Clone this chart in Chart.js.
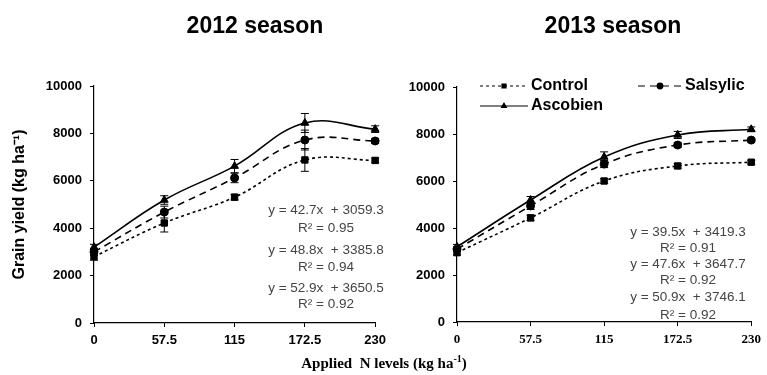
<!DOCTYPE html>
<html>
<head>
<meta charset="utf-8">
<script src="https://cdn.jsdelivr.net/npm/chart.js@4.4.1/dist/chart.umd.min.js"></script>
<style>
  html, body { margin: 0; padding: 0; background: #fff; }
  #wrap { position: relative; width: 767px; height: 375px; overflow: hidden; font-family: "Liberation Sans", Arial, sans-serif; }
  canvas { position: absolute; top: 0; }
  .title { position: absolute; top: 12px; font: bold 23px "Liberation Sans", Arial, sans-serif; transform: translateX(-50%); white-space: nowrap; }
  .eq { position: absolute; font: 13.5px "Liberation Sans", Arial, sans-serif; color: #444; transform: translate(-50%, -50%); white-space: pre; line-height: 1; }
  #xtitle { position: absolute; left: 384px; top: 362px; transform: translate(-50%, -50%); font: bold 15px "Liberation Serif", "Times New Roman", serif; white-space: pre; }
</style>
</head>
<body>
<div id="wrap">
  <canvas id="c2012" width="392" height="375" style="left:0;width:392px;height:375px"></canvas>
  <canvas id="c2013" width="375" height="375" style="left:392px;width:375px;height:375px"></canvas>
  <div class="title" style="left:255px">2012 season</div>
  <div class="title" style="left:613px">2013 season</div>
  <div id="xtitle">Applied  N levels (kg ha<sup style="font-size:10px">-1</sup>)</div>
</div>
<script>
// N levels on the x axis
const xLevels = [0, 57.5, 115, 172.5, 230];
const xTickLabels = ["0", "57.5", "115", "172.5", "230"];
const yTickValues = [0, 2000, 4000, 6000, 8000, 10000];

// grain yield, kg/ha
const control2012 = [2800, 4220, 5310, 6880, 6860];
const salsylic2012 = [3000, 4680, 6120, 7720, 7680];
const ascobien2012 = [3200, 5190, 6620, 8440, 8180];
const controlErr2012 = [150, 380, 120, 480, 100];
const salsylicErr2012 = [150, 250, 200, 420, 100];
const ascobienErr2012 = [120, 180, 280, 400, 140];

const control2013 = [2950, 4430, 6000, 6640, 6800];
const salsylic2013 = [3100, 4940, 6720, 7530, 7740];
const ascobien2013 = [3200, 5190, 7020, 7960, 8200];
const controlErr2013 = [100, 120, 100, 100, 80];
const salsylicErr2013 = [100, 150, 150, 100, 80];
const ascobienErr2013 = [100, 150, 220, 150, 100];

const equations2012 = ["y = 42.7x  + 3059.3", "R\u00b2 = 0.95", "y = 48.8x  + 3385.8", "R\u00b2 = 0.94", "y = 52.9x  + 3650.5", "R\u00b2 = 0.92"];
const equations2013 = ["y = 39.5x  + 3419.3", "R\u00b2 = 0.91", "y = 47.6x  + 3647.7", "R\u00b2 = 0.92", "y = 50.9x  + 3746.1", "R\u00b2 = 0.92"];

const wrap = document.getElementById("wrap");
function placeEquations(lines, cx, ys) {
  lines.forEach((t, i) => {
    const d = document.createElement("div");
    d.className = "eq";
    d.textContent = t;
    d.style.left = cx + "px";
    d.style.top = ys[i] + "px";
    wrap.appendChild(d);
  });
}
placeEquations(equations2012, 326, [210, 228, 250, 267, 288, 304]);
placeEquations(equations2013, 688, [232, 248, 264, 280, 297, 315]);

const pts = (vals) => vals.map((v, i) => ({ x: xLevels[i], y: v }));

function series(label, vals, errs, dash, style) {
  return {
    label,
    data: pts(vals),
    errors: errs,
    borderColor: "#000",
    backgroundColor: "#000",
    borderWidth: 1.6,
    borderDash: dash,
    pointStyle: style,
    pointRadius: style === "circle" ? 4 : 4.5,
    pointBorderWidth: 1,
    tension: 0.4,
    clip: false,
  };
}

const errorBars = {
  id: "errorBars",
  beforeDatasetsDraw(chart) {
    const ctx = chart.ctx;
    const xs = chart.scales.x, ys = chart.scales.y;
    ctx.save();
    ctx.strokeStyle = "#000";
    ctx.lineWidth = 1;
    chart.data.datasets.forEach((ds) => {
      ds.data.forEach((p, j) => {
        const e = ds.errors[j];
        const x = xs.getPixelForValue(p.x);
        const y0 = ys.getPixelForValue(p.y - e);
        const y1 = ys.getPixelForValue(p.y + e);
        ctx.beginPath();
        ctx.moveTo(x, y0); ctx.lineTo(x, y1);
        ctx.moveTo(x - 4, y0); ctx.lineTo(x + 4, y0);
        ctx.moveTo(x - 4, y1); ctx.lineTo(x + 4, y1);
        ctx.stroke();
      });
    });
    ctx.restore();
  },
};

// legend drawn inside the 2013 panel: line sample with marker, then label
const insideLegend = {
  id: "insideLegend",
  afterDraw(chart) {
    const ctx = chart.ctx;
    const slots = [
      { x0: 88, x1: 136, y: 86 },
      { x0: 246, x1: 290, y: 86 },
      { x0: 88, x1: 136, y: 106 },
    ];
    ctx.save();
    chart.data.datasets.forEach((ds, i) => {
      const s = slots[i];
      ctx.strokeStyle = "#000";
      ctx.lineWidth = 1.2;
      ctx.setLineDash(ds.borderDash);
      ctx.beginPath();
      ctx.moveTo(s.x0, s.y); ctx.lineTo(s.x1, s.y);
      ctx.stroke();
      ctx.setLineDash([]);
      ctx.fillStyle = "#000";
      Chart.helpers.drawPoint(ctx, { pointStyle: ds.pointStyle, radius: 2.8, borderWidth: 1 }, (s.x0 + s.x1) / 2, s.y);
      ctx.fill();
      ctx.font = "bold 16px 'Liberation Sans', Arial, sans-serif";
      ctx.textBaseline = "middle";
      ctx.textAlign = "left";
      ctx.fillText(ds.label, s.x1 + 3, s.y);
    });
    ctx.restore();
  },
};

function makeChart(id, datasets, opts) {
  return new Chart(document.getElementById(id), {
    type: "line",
    data: { datasets },
    plugins: [errorBars].concat(opts.plugins || []),
    options: {
      responsive: false,
      animation: false,
      layout: { padding: opts.padding },
      plugins: { legend: { display: false }, tooltip: { enabled: false } },
      scales: {
        x: {
          type: "linear",
          min: 0,
          max: 230,
          afterBuildTicks: (s) => { s.ticks = xLevels.map((v) => ({ value: v })); },
          afterFit: (s) => { s.height = opts.xHeight; },
          grid: { drawOnChartArea: false, drawTicks: true, tickLength: 4, color: "#000" },
          border: { display: true, color: "#000", width: 1.2 },
          ticks: {
            padding: 6,
            color: "#000",
            maxRotation: 0,
            autoSkip: false,
            font: opts.xFont,
            callback: (v) => xTickLabels[xLevels.indexOf(v)],
          },
        },
        y: {
          min: 0,
          max: 10000,
          afterBuildTicks: (s) => { s.ticks = yTickValues.map((v) => ({ value: v })); },
          afterFit: (s) => { s.width = opts.yWidth; },
          grid: { drawOnChartArea: false, drawTicks: true, tickLength: 4, color: "#000" },
          border: { display: true, color: "#000", width: 1.2 },
          ticks: {
            padding: 8,
            color: "#000",
            font: { family: "'Liberation Sans', Arial", size: 13, weight: "bold" },
            callback: (v) => String(v),
          },
          title: opts.yTitle,
        },
      },
    },
  });
}

makeChart("c2012", [
  series("Control", control2012, controlErr2012, [3, 3], "rect"),
  series("Salsylic", salsylic2012, salsylicErr2012, [7, 5], "circle"),
  series("Ascobien", ascobien2012, ascobienErr2012, [], "triangle"),
], {
  padding: { left: 0, right: 4, top: 86, bottom: 0 },
  xHeight: 52,
  yWidth: 94,
  xFont: { family: "'Liberation Sans', Arial", size: 13, weight: "bold" },
  yTitle: {
    display: true,
    text: "Grain yield (kg ha\u207b\u00b9)",
    color: "#000",
    font: { family: "'Liberation Sans', Arial", size: 16, weight: "bold" },
    padding: { top: 10, bottom: 0 },
  },
});

makeChart("c2013", [
  series("Control", control2013, controlErr2013, [3, 3], "rect"),
  series("Salsylic", salsylic2013, salsylicErr2013, [7, 5], "circle"),
  series("Ascobien", ascobien2013, ascobienErr2013, [], "triangle"),
], {
  padding: { left: 0, right: 9, top: 87, bottom: 0 },
  xHeight: 53,
  yWidth: 65,
  xFont: { family: "'Liberation Serif', 'Times New Roman', serif", size: 13, weight: "bold" },
  yTitle: { display: false },
  plugins: [insideLegend],
});
</script>
</body>
</html>
